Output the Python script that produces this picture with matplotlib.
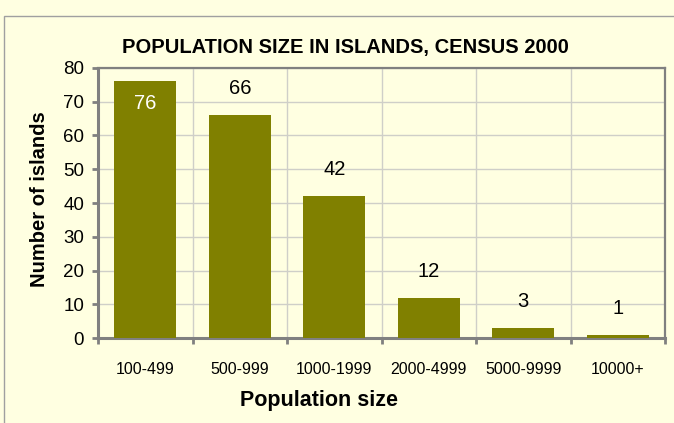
import matplotlib.pyplot as plt
from matplotlib.patches import Rectangle
import numpy as np

plt.rcParams["font.family"] = ["Liberation Sans", "DejaVu Sans"]

# data
categories = ["100-499", "500-999", "1000-1999", "2000-4999", "5000-9999", "10000+"]
islands = [76, 66, 42, 12, 3, 1]

bg = "#FFFFE1"
bar_color = "#808000"
spine_gray = "#808080"
grid_gray = "#CFCFC8"

W, H = 674, 423
fig = plt.figure(figsize=(W / 100, H / 100), dpi=100, facecolor=bg)

# outer chart frame (runs off the right and bottom of the image)
fig.patches.append(
    Rectangle((4 / W, -0.2), 1.2, 1 - 16 / H + 0.2, transform=fig.transFigure,
              fill=False, edgecolor="#A0A0A0", linewidth=1.0)
)

ax = fig.add_axes([98 / W, 1 - 338 / H, (665 - 98) / W, (338 - 68) / H])
ax.set_facecolor(bg)

x = np.arange(len(categories))
bars = ax.bar(x, islands, width=0.66, color=bar_color, zorder=3)

# value labels: first one sits inside the bar in white
for i, (b, v) in enumerate(zip(bars, islands)):
    cx = b.get_x() + b.get_width() / 2
    if i == 0:
        ax.annotate(str(v), (cx, v), xytext=(0, -16), textcoords="offset points",
                    ha="center", va="center", color="white", fontsize=14.5, zorder=4)
    else:
        ax.annotate(str(v), (cx, v), xytext=(0, 19), textcoords="offset points",
                    ha="center", va="center", color="black", fontsize=14.5, zorder=4)

ax.set_xlim(-0.5, len(categories) - 0.5)
ax.set_ylim(0, 80)
ax.set_yticks(np.arange(0, 81, 10))

ax.set_xticks(x)
ax.set_xticklabels(categories, fontsize=11.5)
ax.set_xticks(np.arange(-0.5, len(categories)), minor=True)
ax.tick_params(axis="x", which="major", length=0, pad=17)
ax.tick_params(axis="x", which="minor", length=4, width=2, color=spine_gray, direction="out")
ax.tick_params(axis="y", length=4, width=2, color=spine_gray, labelsize=13.5, pad=6)

ax.grid(axis="y", color=grid_gray, linewidth=1, zorder=0)
ax.grid(axis="x", which="minor", color=grid_gray, linewidth=1, zorder=0)
ax.set_axisbelow(True)

for side in ["left", "bottom"]:
    ax.spines[side].set_color(spine_gray)
    ax.spines[side].set_linewidth(2.2)
for side in ["top", "right"]:
    ax.spines[side].set_color(spine_gray)
    ax.spines[side].set_linewidth(1.6)

fig.text(345 / W, 1 - 47 / H, "POPULATION SIZE IN ISLANDS, CENSUS 2000",
         ha="center", va="center", fontsize=14.5, fontweight="bold")
fig.text(40 / W, 1 - 199 / H, "Number of islands", rotation=90,
         ha="center", va="center", fontsize=14.5, fontweight="bold")
fig.text(319 / W, 1 - 400 / H, "Population size",
         ha="center", va="center", fontsize=15.5, fontweight="bold")

fig.savefig("out.png", dpi=100, facecolor=bg)
